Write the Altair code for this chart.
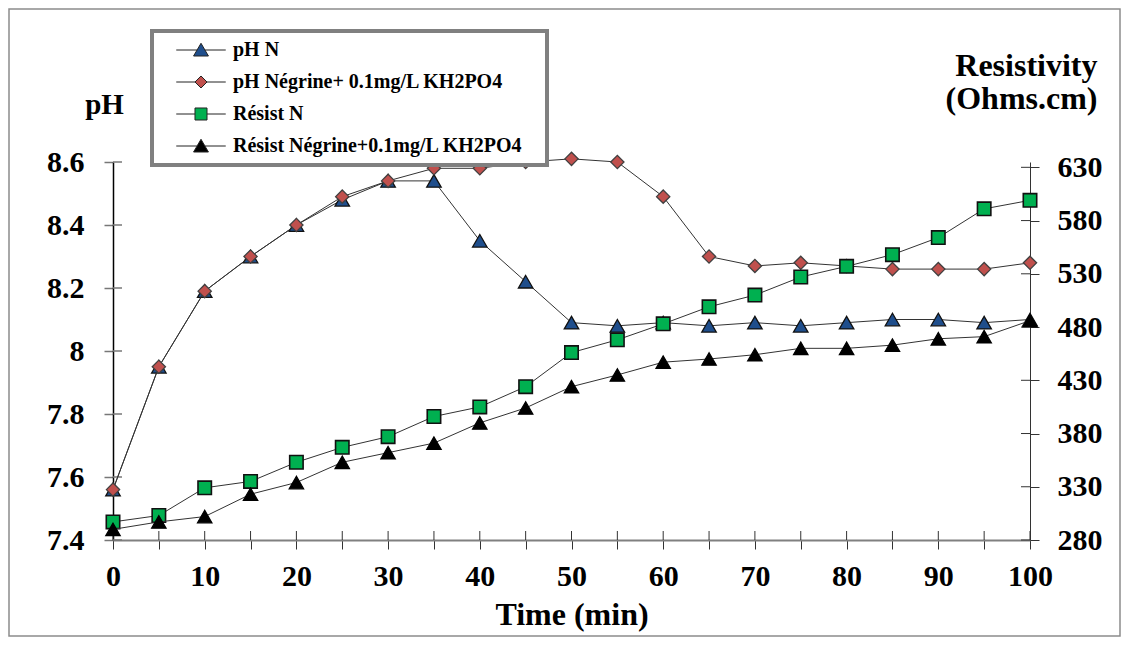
import altair as alt
import pandas as pd

# ---------------- data ----------------
time_min = [0, 5, 10, 15, 20, 25, 30, 35, 40, 45, 50, 55, 60, 65, 70, 75, 80, 85, 90, 95, 100]
ph_n = [7.56, 7.95, 8.19, 8.30, 8.40, 8.48, 8.54, 8.54, 8.35, 8.22, 8.09, 8.08, 8.09, 8.08, 8.09, 8.08, 8.09, 8.10, 8.10, 8.09, 8.10]
ph_negrine = [7.56, 7.95, 8.19, 8.30, 8.40, 8.49, 8.54, 8.58, 8.58, 8.60, 8.61, 8.60, 8.49, 8.30, 8.27, 8.28, 8.27, 8.26, 8.26, 8.26, 8.28]
res_n = [297, 303, 329, 335, 353, 367, 377, 396, 405, 424, 456, 468, 483, 499, 510, 527, 537, 548, 564, 591, 599]
res_negrine = [290, 297, 302, 323, 334, 353, 362, 371, 390, 404, 424, 435, 447, 450, 454, 460, 460, 463, 469, 471, 486]

series_names = ["pH N", "pH Négrine+ 0.1mg/L KH2PO4", "Résist N", "Résist Négrine+0.1mg/L KH2PO4"]
series_fill = ["#1f4e8c", "#c0504d", "#00b050", "#000000"]
x_ticks = [0, 5, 10, 15, 20, 25, 30, 35, 40, 45, 50, 55, 60, 65, 70, 75, 80, 85, 90, 95, 100]
ph_ticks = [7.4, 7.6, 7.8, 8.0, 8.2, 8.4, 8.6]
res_ticks = [280, 330, 380, 430, 480, 530, 580, 630]

df = pd.DataFrame({"t": time_min, "ph_n": ph_n, "ph_neg": ph_negrine,
                   "res_n": res_n, "res_neg": res_negrine})
leg_df = pd.DataFrame({"series": series_names})
xt_df = pd.DataFrame({"v": x_ticks})
pht_df = pd.DataFrame({"v": ph_ticks})
rst_df = pd.DataFrame({"v": res_ticks})

FONT = "Liberation Serif"
W, H = 917, 378
TICK = 9

# ---------------- scales / axes ----------------
x_scale = alt.Scale(domain=[0, 100], nice=False, zero=False)
x_axis = alt.Axis(values=x_ticks, labelExpr="datum.value % 10 == 0 ? datum.label : ''",
                  title="Time (min)", titlePadding=8, labelPadding=12,
                  titleFontSize=32,
                  domainColor="#808080", domainWidth=2, tickColor="#333333",
                  labelFlush=False, labelOverlap=False)


def xenc(field):
    return alt.X(f"{field}:Q", scale=x_scale, axis=x_axis)


ph_scale = alt.Scale(domain=[7.4, 8.6], nice=False, zero=False)
ph_axis = alt.Axis(orient="left", values=ph_ticks, format=".1~f", title="pH",
                   titleFontSize=29,
                   titleAngle=0, titleX=-9, titleY=-49, titleAlign="center",
                   titleBaseline="alphabetic", labelPadding=20,
                   domainColor="#000000", domainWidth=1.5, tickColor="#777777", tickWidth=1.5,
                   labelFlush=False, labelOverlap=False)

res_scale = alt.Scale(domain=[280, 635], nice=False, zero=False)
res_axis = alt.Axis(orient="right", values=res_ticks, title=["Resistivity", "(Ohms.cm)"],
                    titleFontSize=32,
                    titleAngle=0, titleX=67, titleY=-87, titleAlign="right",
                    titleBaseline="alphabetic", titleLineHeight=33, labelPadding=18,
                    domainColor="#333333", domainWidth=1, tickColor="#333333",
                    labelFlush=False, labelOverlap=False)

base = alt.Chart(df)


def series_layers(field, yscale, yaxis, shape, fill, size, stroke, sw):
    y = alt.Y(f"{field}:Q", scale=yscale, axis=yaxis)
    line = base.mark_line(color="#333333", strokeWidth=1).encode(x=xenc("t"), y=y)
    pts = base.mark_point(filled=True, shape=shape, size=size, fill=fill, stroke=stroke,
                          strokeWidth=sw, opacity=1).encode(x=xenc("t"), y=y)
    return [line, pts]


# inner halves of the crossing tick marks (drawn from the tick value lists)
x_inner = alt.Chart(xt_df).mark_rule(color="#333333", strokeWidth=1).encode(
    x=xenc("v"), y=alt.value(H - TICK), y2=alt.value(H))
ph_inner = alt.Chart(pht_df).mark_rule(color="#777777", strokeWidth=1.5).encode(
    y=alt.Y("v:Q", scale=ph_scale, axis=ph_axis), x=alt.value(0), x2=alt.value(TICK))
res_inner = alt.Chart(rst_df).mark_rule(color="#333333", strokeWidth=1).encode(
    y=alt.Y("v:Q", scale=res_scale, axis=res_axis), x=alt.value(W - TICK), x2=alt.value(W))

ph_layer = alt.layer(
    ph_inner,
    *series_layers("ph_n", ph_scale, ph_axis, "triangle-up", series_fill[0], 210, "#111111", 1.3),
    *series_layers("ph_neg", ph_scale, ph_axis, "diamond", series_fill[1], 175, "#404040", 1.3),
)
res_layer = alt.layer(
    res_inner,
    *series_layers("res_n", res_scale, res_axis, "square", series_fill[2], 180, "#111111", 1.6),
    *series_layers("res_neg", res_scale, res_axis, "triangle-up", series_fill[3], 210, "#000000", 1.2),
)

# ---------------- legend ----------------
tri_path = "M-3.5,0H-0.55M0.55,0H3.5M0,-0.95L1.05,0.85L-1.05,0.85Z"
dia_path = "M-3.5,0H-0.85M0.85,0H3.5M0,-0.85L0.85,0L0,0.85L-0.85,0Z"
sq_path = "M-3.5,0H-0.85M0.85,0H3.5M-0.85,-0.85H0.85V0.85H-0.85Z"
legend_paths = [tri_path, dia_path, sq_path, tri_path]

PAD_CHAR = "\u2800"  # blank (non-trimmed) filler widening the legend box on the right
legend = alt.Legend(title=None, orient="none", legendX=39, legendY=-131,
                    fillColor="white", strokeColor="#808080", padding=9,
                    symbolSize=200, symbolStrokeWidth=1,
                    symbolOpacity=1, symbolOffset=30, labelOffset=22,
                    labelFont=FONT, labelFontSize=20, labelFontWeight="bold",
                    labelColor="black", labelLimit=600, rowPadding=12,
                    labelExpr="datum.label + '" + PAD_CHAR + "'")

legend_layer = alt.Chart(leg_df).mark_point(
    filled=False, opacity=1, stroke="#222222", strokeWidth=1
).encode(
    fill=alt.Fill("series:N", scale=alt.Scale(domain=series_names, range=series_fill),
                  legend=legend, sort=series_names),
    shape=alt.Shape("series:N", scale=alt.Scale(domain=series_names, range=legend_paths),
                    legend=legend, sort=series_names),
).transform_filter("false")

# ---------------- outer frame ----------------
frame = alt.Chart(alt.Data(values=[{"a": 1}])).mark_rect(
    fillOpacity=0, stroke="#8c8c8c", strokeWidth=1.5
).encode(x=alt.value(-104), x2=alt.value(1007), y=alt.value(-153), y2=alt.value(474))

chart = alt.layer(frame, x_inner, ph_layer, res_layer, legend_layer).resolve_scale(
    y="independent"
).properties(
    width=W, height=H,
    autosize=alt.AutoSizeParams(type="none"),
    padding={"left": 105, "top": 154, "right": 91, "bottom": 98},
    background="white",
).configure_view(stroke=None).configure_axis(
    labelFont=FONT, labelFontSize=30, labelFontWeight="bold", labelColor="black",
    titleFont=FONT, titleFontSize=32, titleFontWeight="bold", titleColor="black",
    tickSize=TICK, tickWidth=1, grid=False,
)

try:
    alt.Chart(df).mark_point().configure_legend(strokeWidth=4).to_dict()
    chart = chart.configure_legend(strokeWidth=4)
except Exception:
    pass

chart.save("out.html", embed_options={"renderer": "svg", "actions": False})
